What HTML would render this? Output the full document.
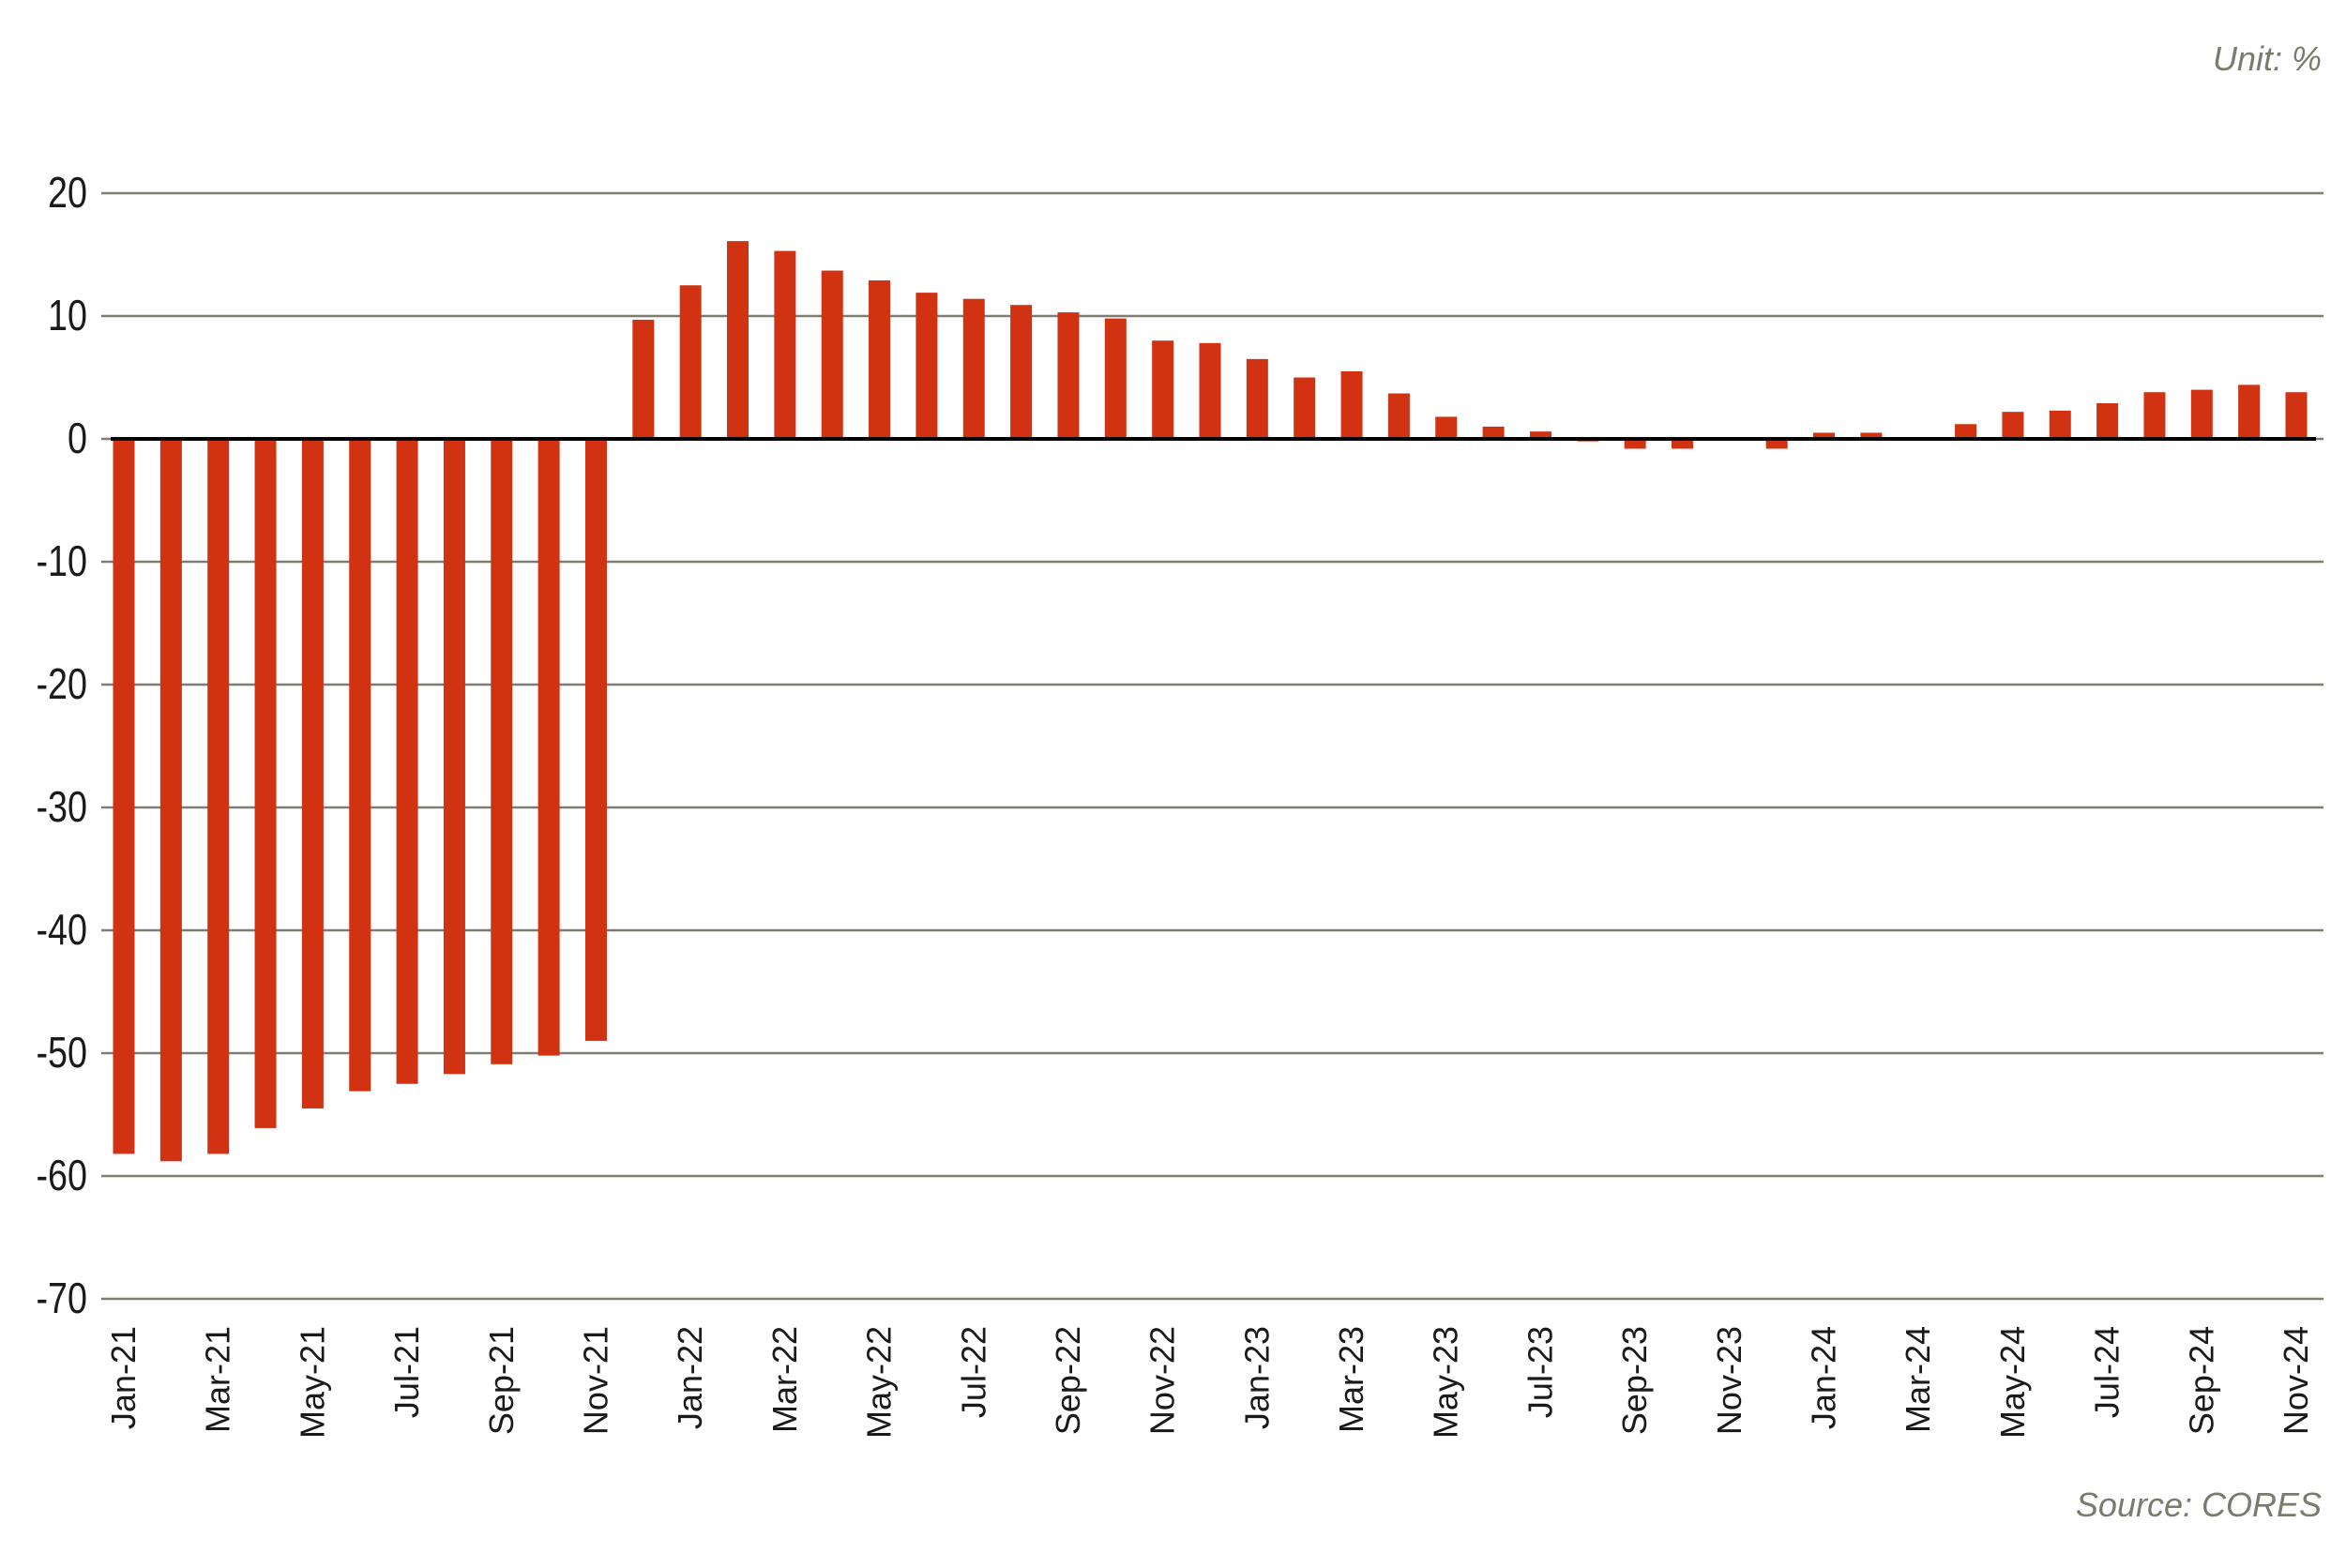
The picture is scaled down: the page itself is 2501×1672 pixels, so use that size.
<!DOCTYPE html>
<html><head><meta charset="utf-8"><style>
body{margin:0;background:#fff;}
svg text{font-family:"Liberation Sans",sans-serif;}
</style></head><body>
<svg id="chart" width="2501" height="1667" xmlns="http://www.w3.org/2000/svg">
<text x="2475" y="75" text-anchor="end" font-size="36" font-style="italic" fill="#7a7a6e">Unit: %</text>
<text x="2475" y="1617" text-anchor="end" font-size="36" font-style="italic" fill="#7a7a6e">Source: CORES</text>
<g id="grid"></g><g id="bars"></g><g id="zero"></g><g id="xlabels"></g>
</svg>
<script>
const categories=["Jan-21","Feb-21","Mar-21","Apr-21","May-21","Jun-21","Jul-21","Aug-21","Sep-21","Oct-21","Nov-21","Dec-21",
"Jan-22","Feb-22","Mar-22","Apr-22","May-22","Jun-22","Jul-22","Aug-22","Sep-22","Oct-22","Nov-22","Dec-22",
"Jan-23","Feb-23","Mar-23","Apr-23","May-23","Jun-23","Jul-23","Aug-23","Sep-23","Oct-23","Nov-23","Dec-23",
"Jan-24","Feb-24","Mar-24","Apr-24","May-24","Jun-24","Jul-24","Aug-24","Sep-24","Oct-24","Nov-24"];
const values=[-58.2,-58.8,-58.2,-56.1,-54.5,-53.1,-52.5,-51.7,-50.9,-50.2,-49.0,9.7,
12.5,16.1,15.3,13.7,12.9,11.9,11.4,10.9,10.3,9.8,8.0,7.8,
6.5,5.0,5.5,3.7,1.8,1.0,0.6,-0.2,-0.8,-0.8,0,-0.8,
0.5,0.5,-0.1,1.2,2.2,2.3,2.9,3.8,4.0,4.4,3.8];
const yTicks=[20,10,0,-10,-20,-30,-40,-50,-60,-70];
const NS="http://www.w3.org/2000/svg";
const x0=108,x1=2477,yTop=206,yBot=1385,vMax=20,vMin=-70;
const firstC=132,lastC=2448,barW=23;
function y(v){return yTop+(vMax-v)/(vMax-vMin)*(yBot-yTop);}
function xc(i){return firstC+i*(lastC-firstC)/(categories.length-1);}
function mk(t,a,p){const e=document.createElementNS(NS,t);for(const k in a)e.setAttribute(k,a[k]);p.appendChild(e);return e;}
const grid=document.getElementById('grid');
yTicks.forEach(t=>{
  const l=mk('line',{x1:x0,x2:x1,y1:y(t),y2:y(t),stroke:'#7f7d72','stroke-width':2.5},grid);
  
  
  const tx=mk('text',{x:93,y:y(t)+15,'text-anchor':'end','font-size':46,fill:'#1a1a1a',transform:`translate(93 0) scale(0.82 1) translate(-93 0)`},grid);
  tx.textContent=t;
  
  
});
const bars=document.getElementById('bars');
values.forEach((v,i)=>{
  const top=Math.min(y(v),y(0)),h=Math.abs(y(v)-y(0));
  const r=mk('rect',{x:xc(i)-barW/2,y:top,width:barW,height:Math.max(h,0),fill:'#d13212'},bars);
  
  
});
const z=mk('line',{x1:x0+10,x2:x1-8,y1:y(0),y2:y(0),stroke:'#000','stroke-width':4},document.getElementById('zero'));


const xl=document.getElementById('xlabels');
categories.forEach((c,i)=>{
  if(i%2)return;
  const X=xc(i)+12,Y=1414;
  const t=mk('text',{x:X,y:Y,'text-anchor':'end','font-size':36,fill:'#1a1a1a',transform:`rotate(-90 ${X} ${Y})`},xl);
  t.textContent=c;
  
  
});
</script>
</body></html>
